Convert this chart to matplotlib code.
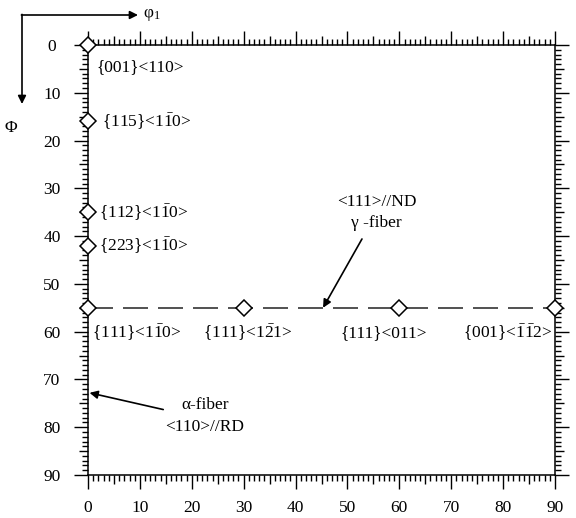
import matplotlib
matplotlib.use("Agg")
import matplotlib.pyplot as plt
from matplotlib.ticker import MultipleLocator, FixedLocator, FuncFormatter

plt.rcParams['font.family'] = ['Liberation Serif', 'DejaVu Serif']
plt.rcParams['font.size'] = 12.5
plt.rcParams['mathtext.fontset'] = 'custom'
plt.rcParams['mathtext.rm'] = 'Liberation Serif'
plt.rcParams['mathtext.it'] = 'Liberation Serif:italic'
plt.rcParams['mathtext.bf'] = 'Liberation Serif:bold'

# ---- data ----
phi1 = [0, 0, 0, 0, 0, 30, 60, 90]
Phi = [0, 16, 35, 42, 55, 55, 55, 55]
labels = ['{001}<110>',
          r'{115}<1$\bar{1}$0>',
          r'{112}<1$\bar{1}$0>',
          r'{223}<1$\bar{1}$0>',
          r'{111}<1$\bar{1}$0>',
          r'{111}<1$\bar{2}$1>',
          '{111}<011>',
          r'{001}<$\bar{1}\bar{1}$2>']
gamma_level = 55
xticks = [0, 10, 20, 30, 40, 50, 60, 70, 80, 90]
yticks = [0, 10, 20, 30, 40, 50, 60, 70, 80, 90]

# label placement (offsets in points from marker, alignment)
label_style = [((6, -16), 'left'),
               ((10, 0), 'left'),
               ((8, 0), 'left'),
               ((8, 0), 'left'),
               ((3, -18), 'left'),
               ((3, -18), 'center'),
               ((-11, -18), 'center'),
               ((-2, -18), 'right')]

W, H = 576, 518
fig = plt.figure(figsize=(W / 100, H / 100), dpi=100)
ax = fig.add_axes([88 / W, 1 - 475 / H, (555 - 88) / W, (475 - 45) / H])

ax.set_xlim(0, 90)
ax.set_ylim(90, 0)

# dashed gamma fibre line
ax.plot([0, 90], [gamma_level, gamma_level], color='#333333', lw=1.2,
        dashes=(15, 6), zorder=2, clip_on=False)

ax.plot(phi1, Phi, linestyle='none', marker='D', ms=8, mfc='white',
        mec='black', mew=1.1, zorder=4, clip_on=False)

for x, y, lab, (off, ha) in zip(phi1, Phi, labels, label_style):
    ax.annotate(lab, (x, y), xytext=off, textcoords='offset points',
                ha=ha, va='center', fontsize=12.5, annotation_clip=False)

# ticks: majors every 5 with 10s longer, minors every 1
ax.xaxis.set_major_locator(FixedLocator(list(range(0, 91, 5))))
ax.yaxis.set_major_locator(FixedLocator(list(range(0, 91, 5))))
ax.xaxis.set_minor_locator(MultipleLocator(1))
ax.yaxis.set_minor_locator(MultipleLocator(1))
fmt = FuncFormatter(lambda v, p: f'{int(round(v))}' if int(round(v)) in xticks else '')
ax.xaxis.set_major_formatter(fmt)
ax.yaxis.set_major_formatter(fmt)

ax.tick_params(which='both', direction='out', top=True, right=True,
               labeltop=False, labelright=False, width=1.0, color='black')
ax.tick_params(which='major', length=10)
ax.tick_params(which='minor', length=4.3)
ax.tick_params(axis='x', which='major', pad=8, labelsize=12.5)
ax.tick_params(axis='y', which='major', pad=16, labelsize=12.5)

for axis in (ax.xaxis, ax.yaxis):
    locs = list(range(0, 91, 5))
    for t, v in zip(axis.get_major_ticks(), locs):
        if v % 10 != 0:
            t.tick1line.set_markersize(6.5)
            t.tick2line.set_markersize(6.5)
for lbl in ax.get_yticklabels():
    lbl.set_horizontalalignment('center')

for s in ax.spines.values():
    s.set_linewidth(1.1)

# fibre annotations
ax.annotate('', xy=(45.3, 55), xytext=(52.8, 40.6),
            arrowprops=dict(arrowstyle='-|>', color='black', lw=1.2,
                            mutation_scale=12, shrinkA=0, shrinkB=0),
            annotation_clip=False)
ax.text(55.6, 32.8, '<111>//ND', ha='center', va='center', fontsize=12.5)
ax.text(55.6, 37.3, 'γ -fiber', ha='center', va='center', fontsize=12.5)

ax.annotate('', xy=(0.3, 72.8), xytext=(14.5, 76.3),
            arrowprops=dict(arrowstyle='-|>', color='black', lw=1.2,
                            mutation_scale=12, shrinkA=0, shrinkB=0),
            annotation_clip=False)
ax.text(22.5, 75.3, 'α-fiber', ha='center', va='center', fontsize=12.5)
ax.text(22.5, 79.9, '<110>//RD', ha='center', va='center', fontsize=12.5)

# Euler-angle axis arrows (figure pixels, top-left origin)
def fp(x, y):
    return (x / W, 1 - y / H)

fig_arrow = dict(arrowstyle='-|>', color='black', lw=1.2, mutation_scale=12,
                 shrinkA=0, shrinkB=0)
ax.annotate('', xy=fp(138, 15), xytext=fp(21.4, 15), xycoords='figure fraction',
            textcoords='figure fraction', arrowprops=fig_arrow, annotation_clip=False)
ax.annotate('', xy=fp(22, 104), xytext=fp(22, 14.4), xycoords='figure fraction',
            textcoords='figure fraction', arrowprops=fig_arrow, annotation_clip=False)
fig.text(*fp(152, 15), 'φ$_\\mathrm{1}$', ha='center', va='center', fontsize=12.5)
fig.text(*fp(11, 128), 'Φ', ha='center', va='center', fontsize=12.5)

fig.savefig('out.png', dpi=100)
